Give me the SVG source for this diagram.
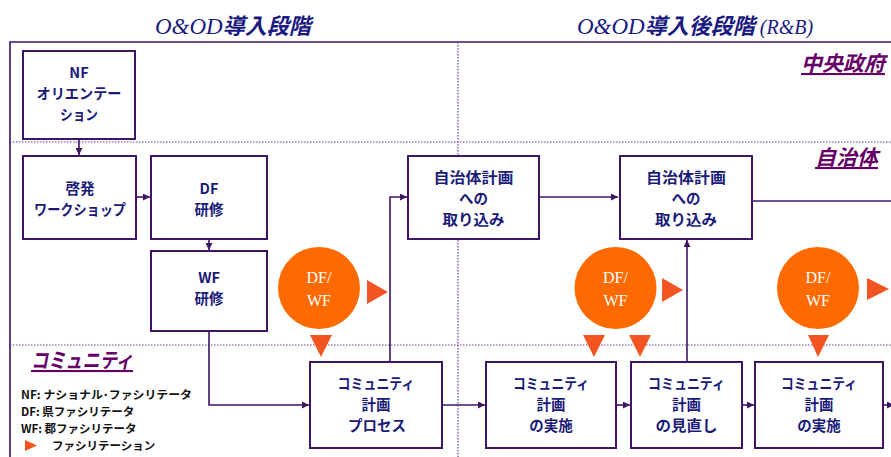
<svg xmlns="http://www.w3.org/2000/svg" width="891" height="457" viewBox="0 0 891 457">
<defs>
<marker id="ah" viewBox="0 0 10 10" refX="10" refY="5" markerWidth="7" markerHeight="7" markerUnits="userSpaceOnUse" orient="auto">
<path d="M0,0 L10,5 L0,10 z" fill="#3d1466"/>
</marker>
</defs>
<style>
.box{fill:#fff;stroke:#3d1466;stroke-width:2}
.bt{font-family:"Noto Sans CJK JP","Liberation Sans",sans-serif;font-weight:bold;font-size:14.5px;fill:#1a1a78;text-anchor:middle}
.con{fill:none;stroke:#3d1466;stroke-width:1.6}
.circ{fill:#ff6a00}
.ct{font-family:"Liberation Serif",serif;font-size:16px;fill:#fff;text-anchor:middle}
.tri{fill:#f25522}
.lane{font-family:"Noto Sans CJK JP",sans-serif;font-weight:bold;font-style:italic;font-size:21px;fill:#660066;text-decoration:underline}
.ttl{font-family:"Noto Sans CJK JP",sans-serif;font-weight:bold;font-style:italic;font-size:22px;fill:#1a1a80}
.ttls{font-family:"Liberation Serif",serif;font-weight:normal;font-style:italic}
.leg{font-family:"Noto Sans CJK JP","Liberation Sans",sans-serif;font-weight:bold;font-size:11.5px;fill:#111}
.dot{stroke:#6a3d9a;stroke-width:1.2;stroke-dasharray:1.5 1.5;fill:none}
.frame{stroke:#3d1466;stroke-width:1.6;fill:none}
</style>
<rect width="891" height="457" fill="#fff"/>
<text class="ttl" x="155" y="34"><tspan class="ttls" font-size="23">O&amp;OD</tspan>導入段階</text>
<text class="ttl" x="577" y="34"><tspan class="ttls" font-size="23">O&amp;OD</tspan>導入後段階<tspan class="ttls" font-size="20"> (R&amp;B)</tspan></text>
<g id="frame">
<path class="frame" d="M10,457 V42 H891"/>
<line class="dot" x1="10" y1="142" x2="891" y2="142"/>
<line class="dot" x1="10" y1="345" x2="891" y2="345"/>
<line class="dot" x1="458" y1="42" x2="458" y2="457" stroke-dasharray="3 2"/>
</g>
<text class="lane" x="885" y="71" text-anchor="end" font-size="22">中央政府</text>
<text class="lane" x="878" y="165" text-anchor="end">自治体</text>
<text class="lane" x="31" y="368" textLength="102" lengthAdjust="spacingAndGlyphs">コミュニティ</text>
<g id="connectors">
<line class="con" x1="79" y1="139" x2="79" y2="155" marker-end="url(#ah)"/>
<line class="con" x1="136" y1="197" x2="150" y2="197" marker-end="url(#ah)"/>
<line class="con" x1="209" y1="239" x2="209" y2="250" marker-end="url(#ah)"/>
<path class="con" d="M209,331 V405 H309" marker-end="url(#ah)"/>
<path class="con" d="M390,362 V197 H407" marker-end="url(#ah)"/>
<line class="con" x1="539" y1="197" x2="618" y2="197" marker-end="url(#ah)"/>
<line class="con" x1="752" y1="201" x2="891" y2="201"/>
<line class="con" x1="687" y1="362" x2="687" y2="240" marker-end="url(#ah)"/>
<line class="con" x1="442" y1="405" x2="485" y2="405" marker-end="url(#ah)"/>
<line class="con" x1="616" y1="405" x2="630" y2="405" marker-end="url(#ah)"/>
<line class="con" x1="742" y1="405" x2="754" y2="405" marker-end="url(#ah)"/>
<line class="con" x1="883" y1="405" x2="894" y2="405" marker-end="url(#ah)"/>
</g>
<g id="nf"><rect class="box" x="23" y="51" width="112" height="88"/>
<text class="bt" x="79" y="78">NF</text><text class="bt" x="79" y="99" textLength="85" lengthAdjust="spacingAndGlyphs">オリエンテー</text><text class="bt" x="79" y="120" textLength="38" lengthAdjust="spacingAndGlyphs">ション</text></g>
<g id="keihatsu"><rect class="box" x="23" y="156" width="113" height="83"/>
<text class="bt" x="80" y="194">啓発</text><text class="bt" x="80" y="215" textLength="92" lengthAdjust="spacingAndGlyphs">ワークショップ</text></g>
<g id="df"><rect class="box" x="151" y="156" width="116" height="83"/>
<text class="bt" x="209" y="194">DF</text><text class="bt" x="209" y="215">研修</text></g>
<g id="wf"><rect class="box" x="151" y="251" width="116" height="80"/>
<text class="bt" x="209" y="283">WF</text><text class="bt" x="209" y="304">研修</text></g>
<g id="plan1"><rect class="box" x="408" y="156" width="131" height="83"/>
<text class="bt" x="473.5" y="183" textLength="80" lengthAdjust="spacingAndGlyphs">自治体計画</text><text class="bt" x="473.5" y="204">への</text><text class="bt" x="473.5" y="225" textLength="62" lengthAdjust="spacingAndGlyphs">取り込み</text></g>
<g id="plan2"><rect class="box" x="620" y="156" width="132" height="83"/>
<text class="bt" x="686" y="183" textLength="80" lengthAdjust="spacingAndGlyphs">自治体計画</text><text class="bt" x="686" y="204">への</text><text class="bt" x="686" y="225" textLength="62" lengthAdjust="spacingAndGlyphs">取り込み</text></g>
<g id="process"><rect class="box" x="310" y="362" width="132" height="86"/>
<text class="bt" x="376" y="389" textLength="77" lengthAdjust="spacingAndGlyphs">コミュニティ</text><text class="bt" x="376" y="410">計画</text><text class="bt" x="377" y="431" textLength="58" lengthAdjust="spacingAndGlyphs">プロセス</text></g>
<g id="impl1"><rect class="box" x="486" y="362" width="130" height="86"/>
<text class="bt" x="551" y="389" textLength="76" lengthAdjust="spacingAndGlyphs">コミュニティ</text><text class="bt" x="551" y="410">計画</text><text class="bt" x="551" y="431">の実施</text></g>
<g id="review"><rect class="box" x="631" y="362" width="111" height="86"/>
<text class="bt" x="686.5" y="389" textLength="77" lengthAdjust="spacingAndGlyphs">コミュニティ</text><text class="bt" x="686.5" y="410">計画</text><text class="bt" x="686.5" y="431" textLength="62" lengthAdjust="spacingAndGlyphs">の見直し</text></g>
<g id="impl2"><rect class="box" x="755" y="362" width="128" height="86"/>
<text class="bt" x="819" y="389" textLength="76" lengthAdjust="spacingAndGlyphs">コミュニティ</text><text class="bt" x="819" y="410">計画</text><text class="bt" x="819" y="431">の実施</text></g>
<g id="fw1"><circle class="circ" cx="319" cy="288" r="41"/>
<text class="ct" x="319" y="283">DF/</text><text class="ct" x="319" y="306">WF</text>
<polygon class="tri" points="367,280 388,292 367,304"/>
<polygon class="tri" points="310,335 332,335 321,357"/></g>
<g id="fw2"><circle class="circ" cx="615.5" cy="288" r="41"/>
<text class="ct" x="615.5" y="283">DF/</text><text class="ct" x="615.5" y="306">WF</text>
<polygon class="tri" points="662,278 683,290 662,302"/>
<polygon class="tri" points="583,335 605,335 594,357"/>
<polygon class="tri" points="629,335 651,335 640,357"/></g>
<g id="fw3"><circle class="circ" cx="818" cy="288" r="41"/>
<text class="ct" x="818" y="283">DF/</text><text class="ct" x="818" y="306">WF</text>
<polygon class="tri" points="867,278 889,289 867,300"/>
<polygon class="tri" points="808,335 829,335 818,357"/></g>
<g id="legend">
<text class="leg" x="21" y="399" textLength="171" lengthAdjust="spacingAndGlyphs">NF: ナショナル･ファシリテータ</text>
<text class="leg" x="21" y="416">DF: 県ファシリテータ</text>
<text class="leg" x="21" y="433">WF: 郡ファシリテータ</text>
<polygon class="tri" points="25,440 37,445.5 25,451"/>
<text class="leg" x="52" y="450">ファシリテーション</text>
</g>
</svg>
